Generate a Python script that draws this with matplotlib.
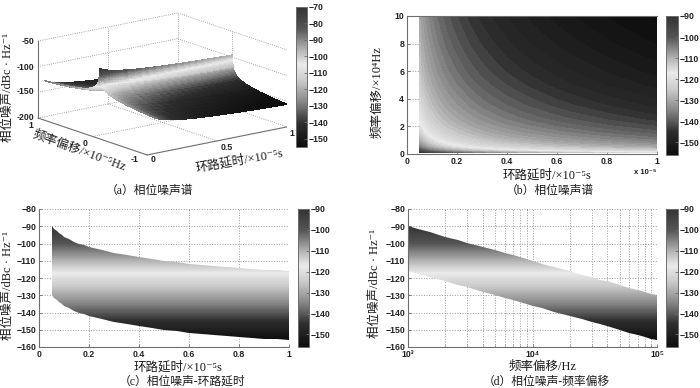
import numpy as np
import matplotlib
matplotlib.use("Agg")
import matplotlib.pyplot as plt
from matplotlib.colors import LinearSegmentedColormap, Normalize
from matplotlib.cm import ScalarMappable
from matplotlib.patches import Polygon
from matplotlib.ticker import FixedLocator, NullFormatter, LogLocator

plt.rcParams["path.simplify"] = False

# Values
delay = [0.05, 0.06, 0.07, 0.08, 0.09, 0.10, 0.12, 0.14, 0.16, 0.18, 0.20, 0.25, 0.30, 0.35,
         0.40, 0.45, 0.50, 0.55, 0.60, 0.65, 0.70, 0.75, 0.80, 0.85, 0.90, 0.95, 1.00]  # x 1e-5 s
noise_vs_delay = [-90, -91.6, -92.9, -94.1, -95.1, -96, -97.6, -98.9, -100.1, -101.1, -102, -104,
                  -105.6, -106.9, -108.1, -109.1, -110, -110.8, -111.6, -112.3, -112.9, -113.5,
                  -114.1, -114.6, -115.1, -115.6, -116]  # at 1 kHz offset
freq = [100, 120, 150, 200, 250, 300, 400, 500, 700, 1000, 1200, 1500, 2000, 2500, 3000, 4000,
        5000, 6000, 7000, 8000, 10000, 12000, 15000, 20000, 25000, 30000, 35000, 40000, 50000,
        60000, 70000, 80000, 90000, 100000]  # Hz
change_vs_freq = [20, 18.4, 16.5, 14, 12, 10.5, 8, 6, 3.1, 0, -1.6, -3.5, -6, -8, -9.5, -12, -14,
                  -15.6, -16.9, -18.1, -20, -21.6, -23.5, -26, -28, -29.5, -30.9, -32, -34, -35.6,
                  -36.9, -38.1, -39.1, -40]  # dB relative to 1 kHz
gray_stops = [(0, .05), (.167, .18), (.318, .52), (.47, .79), (.59, .92), (.697, .7), (.848, .33), (1, .2)]

W, H = 700, 388
fig = plt.figure(figsize=(W / 100, H / 100), dpi=100)
cmap = LinearSegmentedColormap.from_list("m", [(p, (g, g, g)) for p, g in gray_stops], N=256)
SER = ["Liberation Serif", "Noto Sans CJK SC", "DejaVu Sans"]
TICK = dict(family="Liberation Sans", fontweight="bold", fontsize=6.3, color="#222222")
LINE = "#6e6e6e"

d = np.array(delay)
nd = np.array(noise_vs_delay)
f = np.array(freq, float)
cf = np.array(change_vs_freq)
i1k = freq.index(1000)


def rect(x0, y0, x1, y1):
    return [x0 / W, 1 - y1 / H, (x1 - x0) / W, (y1 - y0) / H]


def T(x, y, s, **k):
    k.setdefault("ha", "center")
    k.setdefault("va", "center")
    k.setdefault("family", SER)
    k.setdefault("fontsize", 9)
    k.setdefault("color", "#1a1a1a")
    fig.text(x / W, 1 - y / H, s, **k)


def L(x, y, s, rot=0):
    """Left-anchored label, so the start of the text sits at (x, y)."""
    T(x, y, s, ha="left", rotation=rot, rotation_mode="anchor")


def cbar(box, vmin, vmax, ticks):
    c = fig.add_axes(rect(*box))
    cb = fig.colorbar(ScalarMappable(Normalize(vmin, vmax), cmap), cax=c)
    cb.set_ticks(ticks)
    cb.ax.tick_params(length=2, width=.6, direction="in", pad=1, color=LINE)
    for t in cb.ax.get_yticklabels():
        t.set(**TICK)
    cb.outline.set_edgecolor(LINE)
    cb.outline.set_linewidth(.7)


def style(ax):
    ax.set_axisbelow(True)
    ax.grid(True, ls=":", lw=.7, color="#999999")
    ax.spines["top"].set_visible(False)
    ax.spines["right"].set_visible(False)
    ax.spines["left"].set_color(LINE)
    ax.spines["bottom"].set_color(LINE)
    ax.tick_params(length=2, width=.6, direction="in", pad=2, color=LINE)
    for t in ax.get_xticklabels() + ax.get_yticklabels():
        t.set(**TICK)


# ---------- (a) surface
ax = fig.add_axes(rect(0, 0, 330, 180), projection="3d", proj_type="ortho", computed_zorder=False)
ax.patch.set_alpha(0)
ax.set_axis_off()
ax.set_xlim(0, 1, view_margin=0)
ax.set_ylim(-1, 1, view_margin=0)
ax.set_zlim(-200, -50, view_margin=0)
ax.set_box_aspect((176.5, 179, 79.7), zoom=1.0)
ax.view_init(elev=15.1, azim=-127.6)

fs = np.concatenate([-f[::-1], f]) / 1e5
cs = np.concatenate([cf[::-1], cf])
X, Y = np.meshgrid(d, fs)
Z = nd[None, :] + cs[:, None]
norm_a = Normalize(-155, -70)
ax.plot_surface(X, Y, Z, facecolors=cmap(norm_a(Z)), rstride=1, cstride=1, shade=False,
                linewidth=0.2, antialiased=False, zorder=2)
dot = dict(ls=":", lw=.6, color="#888888", zorder=1)
for z in [-50, -100, -150]:
    ax.plot([0, 1], [1, 1], [z, z], **dot)
    ax.plot([1, 1], [1, -1], [z, z], **dot)
ax.plot([0.5, 0.5], [1, 1], [-200, -50], **dot)
ax.plot([1, 1], [0, 0], [-200, -50], **dot)
ax.plot([1, 1], [1, 1], [-200, -50], **dot)
ax.plot([1, 1], [-1, -1], [-200, -50], **dot)
ax.plot([0, 1], [1, 1], [-200, -200], **dot)
ax.plot([1, 1], [1, -1], [-200, -200], **dot)
ax.plot([0.5, 0.5], [1, -1], [-200, -200], **dot)
ax.plot([0, 1], [0, 0], [-200, -200], **dot)
solid = dict(lw=.8, color=LINE, zorder=3)
ax.plot([0, 0], [1, 1], [-200, -50], **solid)
ax.plot([0, 0], [1, -1], [-200, -200], **solid)
ax.plot([0, 1], [-1, -1], [-200, -200], **solid)


def place3d():
    from mpl_toolkits.mplot3d import proj3d
    for _ in range(3):
        fig.canvas.draw()
        pts = []
        for p in [(0, 1, -200), (1, -1, -200)]:
            a, b, _z = proj3d.proj_transform(*p, ax.get_proj())
            pts.append(ax.transData.transform((a, b)))
        (ax1, ay1), (ax2, ay2) = pts
        s = (287 - 38) / (ax2 - ax1)
        pos = ax.get_position()
        w, h = pos.width * s, pos.height * s
        cx, cy = pos.x0 + pos.width / 2, pos.y0 + pos.height / 2
        nx = cx + ((ax1 / W - cx) * s)
        ny = cy + ((ay1 / H - cy) * s)
        dx, dy = 38 / W - nx, (1 - 118 / H) - ny
        ax.set_position([cx + dx - w / 2, cy + dy - h / 2, w, h])


place3d()
for z, y in zip(["-50", "-100", "-150", "-200"], [41, 67, 92, 117]):
    T(34, y, z, ha="right", **TICK)
for s, x, y in [("1", 31, 126), ("0", 85, 143), ("-1", 135, 160),
                ("0", 153, 160), ("0.5", 227, 147), ("1", 292, 133)]:
    T(x, y, s, **TICK)
T(8, 88, "相位噪声/dBc · Hz⁻¹", rotation=90)
L(33, 134, "频率偏移/×10⁻⁵Hz", -20)
L(196, 168, "环路延时/×10⁻⁵s", 10)
T(150, 191, "（a）相位噪声谱", fontsize=8.5)
cbar((296, 7, 307, 147), -155, -70, list(range(-150, -60, 10)))

# ---------- (b) map
ax = fig.add_axes(rect(407, 16, 657, 154))
Zb = nd[None, :] + cf[i1k:, None]
ax.contourf(d, f[i1k:] / 1e4, Zb, levels=np.arange(-157, -88, 1.5), cmap=cmap, norm=Normalize(-156, -90))
ax.set_xlim(0, 1)
ax.set_ylim(0, 10)
ax.set_xticks([0, .2, .4, .6, .8, 1], ["0", "0.2", "0.4", "0.6", "0.8", "1"])
ax.set_yticks([0, 2, 4, 6, 8, 10])
style(ax)
ax.spines["top"].set_visible(True)
ax.spines["top"].set_color(LINE)
L(503, 175, "环路延时/×10⁻⁵s")
T(634, 172, "x 10⁻⁵", ha="left", family=["Liberation Sans", "DejaVu Sans"], fontweight="bold", fontsize=5.5)
T(377, 92, "频率偏移/×10⁴Hz", rotation=90)
T(550, 191, "（b）相位噪声谱", fontsize=8.5)
cbar((666, 16, 678, 155), -156, -90, list(range(-150, -80, 10)))

# ---------- (c) noise vs delay
norm = Normalize(-156, -90)
ramp = np.linspace(-160, -80, 321)
ax = fig.add_axes(rect(39, 209, 289, 347))
m = ax.pcolormesh([0, 1], ramp, ramp[:-1, None], cmap=cmap, norm=norm)
poly = Polygon(np.column_stack([np.r_[d, d[::-1]], np.r_[nd, (nd + cf[-1])[::-1]]]), closed=True,
               transform=ax.transData, fc="none", ec="none")
ax.add_patch(poly)
m.set_clip_path(poly)
ax.set_xlim(0, 1)
ax.set_ylim(-160, -80)
ax.set_xticks([0, .2, .4, .6, .8, 1], ["0", "0.2", "0.4", "0.6", "0.8", "1"])
ax.set_yticks(range(-160, -70, 10))
style(ax)
L(134, 367, "环路延时/×10⁻⁵s")
T(8, 285, "相位噪声/dBc · Hz⁻¹", rotation=90)
T(182, 382, "（c）相位噪声-环路延时", fontsize=8.5)
cbar((298, 209, 309, 347), -156, -90, list(range(-150, -80, 10)))

# ---------- (d) noise vs offset
ax = fig.add_axes(rect(408, 209, 657, 347))
ax.set_xscale("log")
fd = f[i1k:]
cd = cf[i1k:]
m = ax.pcolormesh([fd[0], fd[-1]], ramp, ramp[:-1, None], cmap=cmap, norm=norm)
poly = Polygon(np.column_stack([np.r_[fd, fd[::-1]], np.r_[nd[0] + cd, (nd[-1] + cd)[::-1]]]), closed=True,
               transform=ax.transData, fc="none", ec="none")
ax.add_patch(poly)
m.set_clip_path(poly)
ax.set_xlim(1e3, 1e5)
ax.set_ylim(-160, -80)
ax.set_yticks(range(-160, -70, 10))
ax.xaxis.set_major_locator(FixedLocator([1e3, 1e4, 1e5]))
ax.xaxis.set_minor_locator(LogLocator(base=10, subs=range(2, 10), numticks=12))
ax.xaxis.set_minor_formatter(NullFormatter())
ax.set_xticks([1e3, 1e4, 1e5], ["10³", "10⁴", "10⁵"])
style(ax)
ax.grid(True, which="minor", axis="x", ls=":", lw=.7, color="#999999")
ax.tick_params(which="minor", length=1.5, width=.5, direction="in", color=LINE)
for t in ax.get_xticklabels():
    t.set_family(["Liberation Sans", "DejaVu Sans"])
T(543, 367, "频率偏移/Hz")
T(375, 283, "相位噪声/dBc · Hz⁻¹", rotation=90)
T(546, 382, "（d）相位噪声-频率偏移", fontsize=8.5)
cbar((666, 209, 678, 347), -156, -90, list(range(-150, -80, 10)))

fig.savefig("out.png", dpi=100)
